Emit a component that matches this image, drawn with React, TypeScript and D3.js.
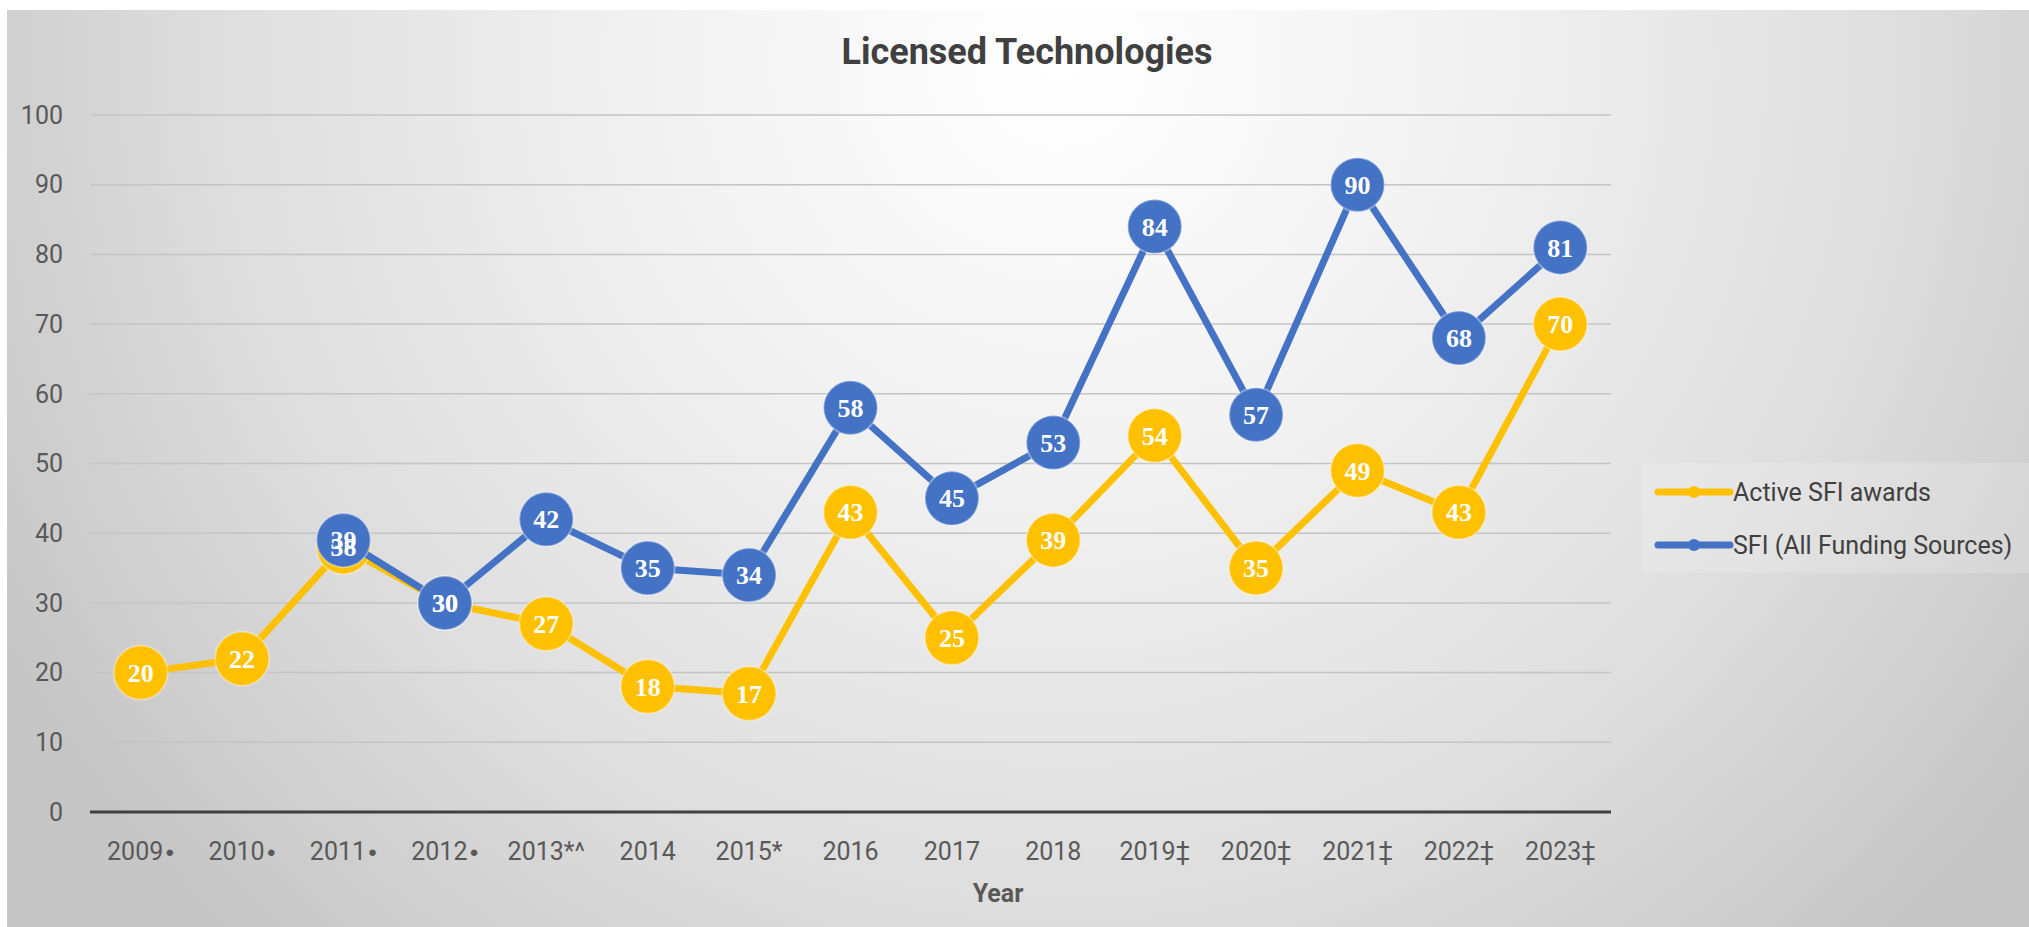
import * as d3 from 'd3';
import { useEffect, useRef } from 'react';

const years = [
  '2009●',
  '2010●',
  '2011●',
  '2012●',
  '2013*^',
  '2014',
  '2015*',
  '2016',
  '2017',
  '2018',
  '2019‡',
  '2020‡',
  '2021‡',
  '2022‡',
  '2023‡',
];

const activeAwards = [20, 22, 38, 30, 27, 18, 17, 43, 25, 39, 54, 35, 49, 43, 70];
const allFunding = [null, null, 39, 30, 42, 35, 34, 58, 45, 53, 84, 57, 90, 68, 81];

const yTicks = [0, 10, 20, 30, 40, 50, 60, 70, 80, 90, 100];

const seriesNames = ['Active SFI awards', 'SFI (All Funding Sources)'];
const seriesColors = ['#FFC000', '#4472C4'];

const width = 2029;
const height = 927;
const sansFont = 'Roboto, "Liberation Sans", sans-serif';
const labelFont = '"Liberation Serif", "DejaVu Serif", serif';

const App = () => {
  const ref = useRef<SVGSVGElement | null>(null);
  const plot = { left: 90, right: 1611, top: 115, bottom: 812 };

  useEffect(() => {
    if (!ref.current) return;
    const svg = d3.select(ref.current);
    svg.selectAll('*').remove();

    // background
    const defs = svg.append('defs');
    const grad = defs
      .append('radialGradient')
      .attr('id', 'bg')
      .attr('gradientUnits', 'userSpaceOnUse')
      .attr('cx', 1060)
      .attr('cy', 60)
      .attr('r', 1200);
    grad.append('stop').attr('offset', 0).attr('stop-color', '#ffffff');
    grad.append('stop').attr('offset', 0.35).attr('stop-color', '#f1f1f1');
    grad.append('stop').attr('offset', 0.7).attr('stop-color', '#dedede');
    grad.append('stop').attr('offset', 1).attr('stop-color', '#c6c6c6');

    svg.append('rect').attr('width', width).attr('height', height).attr('fill', '#fff');
    svg
      .append('rect')
      .attr('x', 7)
      .attr('y', 10)
      .attr('width', width - 7)
      .attr('height', height - 10)
      .attr('fill', 'url(#bg)');

    const x = d3
      .scalePoint<string>()
      .domain(years)
      .range([plot.left, plot.right])
      .padding(0.5);

    const y = d3.scaleLinear().domain([0, 100]).range([plot.bottom, plot.top]);

    // gridlines
    svg
      .append('g')
      .selectAll('line')
      .data(yTicks.filter((t) => t > 0))
      .join('line')
      .attr('x1', plot.left)
      .attr('x2', plot.right)
      .attr('y1', (d) => y(d))
      .attr('y2', (d) => y(d))
      .attr('stroke', '#c4c4c4')
      .attr('stroke-width', 1.5);

    // y labels
    svg
      .append('g')
      .selectAll('text')
      .data(yTicks)
      .join('text')
      .attr('x', 63)
      .attr('y', (d) => y(d))
      .attr('dy', '0.35em')
      .attr('text-anchor', 'end')
      .attr('font-family', sansFont)
      .attr('font-size', 25)
      .attr('fill', '#595959')
      .text((d) => d);

    // x axis line
    svg
      .append('line')
      .attr('x1', plot.left)
      .attr('x2', plot.right)
      .attr('y1', y(0))
      .attr('y2', y(0))
      .attr('stroke', '#404040')
      .attr('stroke-width', 3);

    // x labels, the trailing dot set a bit smaller
    const xLabels = svg
      .append('g')
      .selectAll('text')
      .data(years)
      .join('text')
      .attr('x', (d) => x(d)!)
      .attr('y', 851)
      .attr('dy', '0.35em')
      .attr('text-anchor', 'middle')
      .attr('font-family', sansFont)
      .attr('font-size', 25)
      .attr('fill', '#595959');
    xLabels.append('tspan').text((d) => d.replace('●', ''));
    xLabels
      .filter((d) => d.includes('●'))
      .append('tspan')
      .attr('font-size', 15)
      .attr('dx', 2)
      .attr('dy', -3)
      .text('●');

    // titles
    svg
      .append('text')
      .attr('x', 1027)
      .attr('y', 64)
      .attr('text-anchor', 'middle')
      .attr('font-family', sansFont)
      .attr('font-weight', 'bold')
      .attr('font-size', 36)
      .attr('fill', '#404040')
      .text('Licensed Technologies');

    svg
      .append('text')
      .attr('x', 998)
      .attr('y', 893)
      .attr('dy', '0.35em')
      .attr('text-anchor', 'middle')
      .attr('font-family', sansFont)
      .attr('font-weight', 'bold')
      .attr('font-size', 25)
      .attr('fill', '#595959')
      .text('Year');

    const allSeries = [activeAwards, allFunding];
    const line = d3
      .line<number | null>()
      .defined((d) => d != null)
      .x((_, i) => x(years[i])!)
      .y((d) => y(d as number));

    allSeries.forEach((values, si) => {
      svg
        .append('path')
        .datum(values)
        .attr('d', line)
        .attr('fill', 'none')
        .attr('stroke', seriesColors[si])
        .attr('stroke-width', 7)
        .attr('stroke-linejoin', 'round');

      svg
        .append('g')
        .selectAll('circle')
        .data(values.map((v, i) => ({ v, i })).filter((d) => d.v != null))
        .join('circle')
        .attr('cx', (d) => x(years[d.i])!)
        .attr('cy', (d) => y(d.v as number))
        .attr('r', 27)
        .attr('fill', seriesColors[si])
        .attr('stroke', '#ffffff')
        .attr('stroke-opacity', 0.35)
        .attr('stroke-width', 2);
    });

    // data labels on top
    allSeries.forEach((values) => {
      svg
        .append('g')
        .selectAll('text')
        .data(values.map((v, i) => ({ v, i })).filter((d) => d.v != null))
        .join('text')
        .attr('x', (d) => x(years[d.i])!)
        .attr('y', (d) => y(d.v as number))
        .attr('dy', '0.35em')
        .attr('text-anchor', 'middle')
        .attr('font-family', labelFont)
        .attr('font-weight', 'bold')
        .attr('font-size', 26)
        .attr('fill', '#ffffff')
        .text((d) => d.v as number);
    });

    // legend
    svg
      .append('rect')
      .attr('x', 1642)
      .attr('y', 463)
      .attr('width', width - 1642)
      .attr('height', 110)
      .attr('fill', '#ffffff')
      .attr('fill-opacity', 0.18);

    const legend = svg
      .append('g')
      .selectAll('g')
      .data(seriesNames)
      .join('g')
      .attr('transform', (_, i) => `translate(0,${492 + i * 53})`);

    legend
      .append('line')
      .attr('x1', 1658)
      .attr('x2', 1730)
      .attr('stroke', (_, i) => seriesColors[i])
      .attr('stroke-width', 7)
      .attr('stroke-linecap', 'round');

    legend
      .append('circle')
      .attr('cx', 1694)
      .attr('r', 6)
      .attr('fill', (_, i) => seriesColors[i]);

    legend
      .append('text')
      .attr('x', 1733)
      .attr('dy', '0.35em')
      .attr('font-family', sansFont)
      .attr('font-size', 25)
      .attr('fill', '#404040')
      .text((d) => d);
  }, []);

  return (
    <svg
      ref={ref}
      width={width}
      height={height}
      style={{ position: 'absolute', left: 0, top: 0 }}
    />
  );
};

export default App;
